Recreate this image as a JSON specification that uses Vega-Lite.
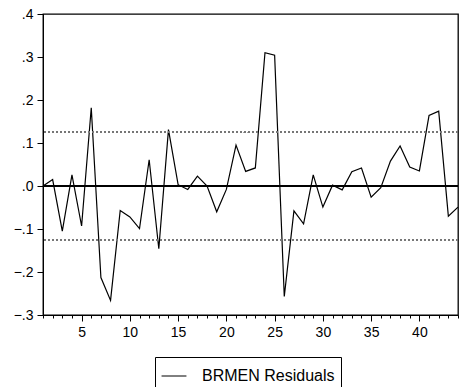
{
  "$schema": "https://vega.github.io/schema/vega-lite/v6.json",
  "width": 415,
  "height": 301,
  "autosize": {"type": "none"},
  "padding": {"left": 43, "top": 14, "right": 4, "bottom": 72},
  "background": "white",
  "config": {
    "font": "Liberation Sans",
    "view": {"stroke": "black", "strokeWidth": 1.3},
    "axis": {"labelFont": "Liberation Sans", "labelFontSize": 14, "labelColor": "black", "tickColor": "black", "domainColor": "black", "grid": false}
  },
  "data": {"values": [
    {"obs": 1, "resid": 0.0},
    {"obs": 2, "resid": 0.015},
    {"obs": 3, "resid": -0.105},
    {"obs": 4, "resid": 0.026},
    {"obs": 5, "resid": -0.093},
    {"obs": 6, "resid": 0.182},
    {"obs": 7, "resid": -0.213},
    {"obs": 8, "resid": -0.266},
    {"obs": 9, "resid": -0.057},
    {"obs": 10, "resid": -0.072},
    {"obs": 11, "resid": -0.099},
    {"obs": 12, "resid": 0.061},
    {"obs": 13, "resid": -0.146},
    {"obs": 14, "resid": 0.131},
    {"obs": 15, "resid": 0.003},
    {"obs": 16, "resid": -0.008},
    {"obs": 17, "resid": 0.023},
    {"obs": 18, "resid": 0.0},
    {"obs": 19, "resid": -0.06},
    {"obs": 20, "resid": -0.008},
    {"obs": 21, "resid": 0.095},
    {"obs": 22, "resid": 0.034},
    {"obs": 23, "resid": 0.042},
    {"obs": 24, "resid": 0.31},
    {"obs": 25, "resid": 0.304},
    {"obs": 26, "resid": -0.257},
    {"obs": 27, "resid": -0.058},
    {"obs": 28, "resid": -0.088},
    {"obs": 29, "resid": 0.026},
    {"obs": 30, "resid": -0.049},
    {"obs": 31, "resid": 0.002},
    {"obs": 32, "resid": -0.009},
    {"obs": 33, "resid": 0.033},
    {"obs": 34, "resid": 0.042},
    {"obs": 35, "resid": -0.026},
    {"obs": 36, "resid": -0.004},
    {"obs": 37, "resid": 0.058},
    {"obs": 38, "resid": 0.093},
    {"obs": 39, "resid": 0.044},
    {"obs": 40, "resid": 0.035},
    {"obs": 41, "resid": 0.164},
    {"obs": 42, "resid": 0.174},
    {"obs": 43, "resid": -0.07},
    {"obs": 44, "resid": -0.049}
  ]},
  "layer": [
    {
      "mark": {"type": "line", "strokeWidth": 1.2},
      "encoding": {
        "x": {
          "field": "obs", "type": "quantitative",
          "scale": {"domain": [1, 44], "nice": false, "zero": false},
          "axis": {
            "title": null,
            "values": [1,2,3,4,5,6,7,8,9,10,11,12,13,14,15,16,17,18,19,20,21,22,23,24,25,26,27,28,29,30,31,32,33,34,35,36,37,38,39,40,41,42,43,44],
            "labelExpr": "datum.value % 5 === 0 ? datum.label : ''",
            "tickSize": {"expr": "datum.value % 5 === 0 ? 6 : 3"},
            "labelPadding": {"expr": "4"},
            "labelOverlap": false,
            "labelFlush": false,
            "domain": true
          }
        },
        "y": {
          "field": "resid", "type": "quantitative",
          "scale": {"domain": [-0.3, 0.4], "nice": false},
          "axis": {
            "title": null,
            "values": [-0.3, -0.2, -0.1, 0, 0.1, 0.2, 0.3, 0.4],
            "labelExpr": "replace(format(datum.value, '.1f'), '0.', '.')",
            "tickSize": 6,
            "labelPadding": 4,
            "labelFlush": false
          }
        },
        "color": {
          "datum": "BRMEN Residuals",
          "scale": {"range": ["black"]},
          "legend": {
            "title": null,
            "orient": "none",
            "legendX": 112,
            "legendY": 343,
            "strokeColor": "black",
            "padding": 6,
            "symbolType": "stroke",
            "symbolSize": 620,
            "symbolStrokeWidth": 1,
            "labelFontSize": 16,
            "labelFont": "Liberation Sans",
            "labelColor": "black",
            "labelOffset": 15,
            "fillColor": "white"
          }
        }
      }
    },
    {
      "mark": {"type": "rule", "strokeDash": [2, 2], "color": "#777777", "strokeWidth": 1},
      "encoding": {"y": {"datum": 0.125, "type": "quantitative"}}
    },
    {
      "mark": {"type": "rule", "strokeDash": [2, 2], "color": "#777777", "strokeWidth": 1},
      "encoding": {"y": {"datum": -0.125, "type": "quantitative"}}
    },
    {
      "mark": {"type": "rule", "color": "black", "strokeWidth": 1.6},
      "encoding": {"y": {"datum": 0, "type": "quantitative"}}
    }
  ]
}
